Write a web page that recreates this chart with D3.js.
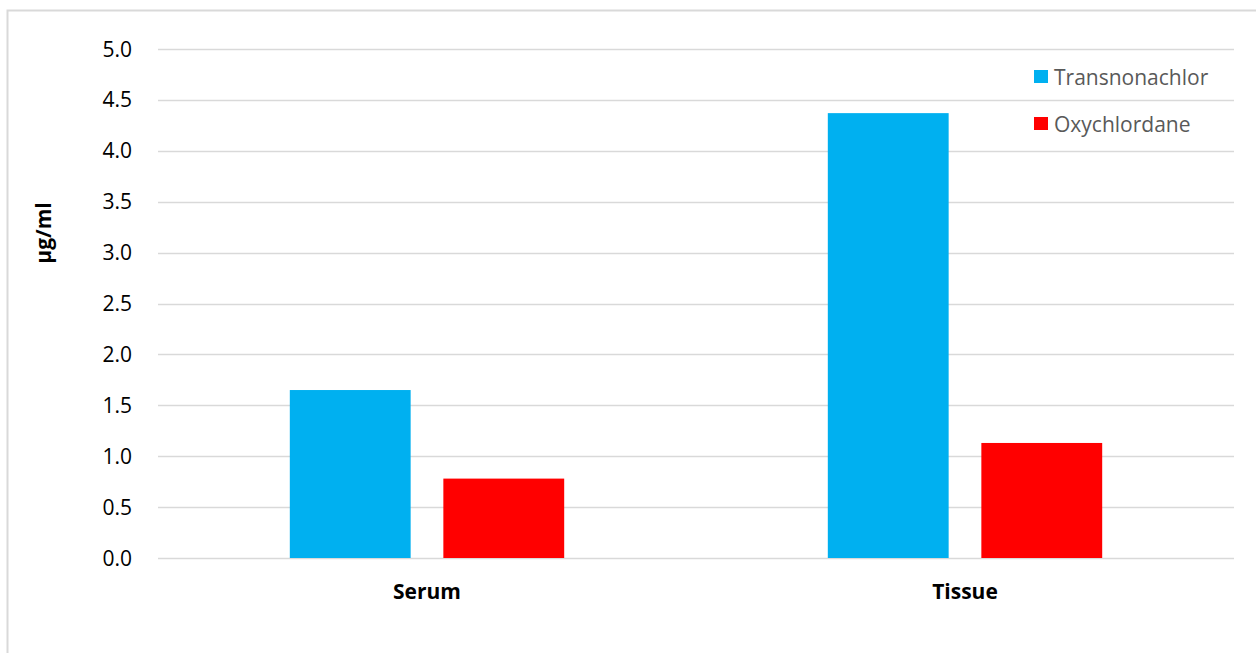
<!DOCTYPE html>
<html>
<head>
<meta charset="utf-8">
<script src="https://cdn.jsdelivr.net/npm/d3@7"></script>
<style>
  body { margin: 0; background: #fff; }
  text { font-family: "Open Sans", "Noto Sans", sans-serif; }
</style>
</head>
<body>
<div id="chart"></div>
<script>
// Data
const categories = ["Serum", "Tissue"];
const seriesNames = ["Transnonachlor", "Oxychlordane"];
const transnonachlor = [1.65, 4.37];
const oxychlordane = [0.78, 1.13];
const yTicks = [0, 0.5, 1, 1.5, 2, 2.5, 3, 3.5, 4, 4.5, 5];
const colors = ["#00B0F0", "#FF0000"];

const width = 1256, height = 653;
const plot = { left: 158, right: 1234, top: 49, bottom: 558 };

const svg = d3.select("#chart")
    .append("svg")
    .attr("width", width)
    .attr("height", height);

// Outer frame (top and left edges visible)
svg.append("path")
    .attr("d", `M7.5,${height} V10.5 H${width}`)
    .attr("fill", "none")
    .attr("stroke", "#d9d9d9")
    .attr("stroke-width", 2);

const y = d3.scaleLinear().domain([0, 5]).range([plot.bottom, plot.top]);
const x0 = d3.scaleBand().domain(categories).range([plot.left, plot.right]);
// inner band: outer gap ~ 24.5% of the category band, gap between bars ~ 21% of step
const outer = x0.bandwidth() * 0.245;
const x1 = d3.scaleBand().domain(seriesNames)
    .range([outer, x0.bandwidth() - outer])
    .paddingInner(0.213)
    .paddingOuter(0);

// Gridlines
svg.append("g")
    .selectAll("line")
    .data(yTicks)
    .enter()
    .append("line")
    .attr("x1", plot.left)
    .attr("x2", plot.right)
    .attr("y1", d => Math.round(y(d)) + 0.5)
    .attr("y2", d => Math.round(y(d)) + 0.5)
    .attr("stroke", "#d9d9d9")
    .attr("stroke-width", 1.5);

// Y tick labels
svg.append("g")
    .selectAll("text")
    .data(yTicks)
    .enter()
    .append("text")
    .attr("x", 132)
    .attr("y", d => y(d))
    .attr("dy", "0.36em")
    .attr("text-anchor", "end")
    .style("font-size", "21px")
    .attr("fill", "#000")
    .text(d => d3.format(".1f")(d));

// Bars
const seriesValues = [transnonachlor, oxychlordane];
const groups = svg.append("g")
    .selectAll("g")
    .data(categories)
    .enter()
    .append("g")
    .attr("transform", d => `translate(${x0(d)},0)`);

groups.selectAll("rect")
    .data((c, i) => seriesNames.map((s, j) => ({ s, j, v: seriesValues[j][i] })))
    .enter()
    .append("rect")
    .attr("x", d => x1(d.s))
    .attr("width", x1.bandwidth())
    .attr("y", d => y(d.v))
    .attr("height", d => y(0) - y(d.v))
    .attr("fill", d => colors[d.j]);

// Category labels
svg.append("g")
    .selectAll("text")
    .data(categories)
    .enter()
    .append("text")
    .attr("x", d => x0(d) + x0.bandwidth() / 2)
    .attr("y", 599)
    .attr("text-anchor", "middle")
    .style("font-size", "21px")
    .style("font-weight", "bold")
    .text(d => d);

// Y axis title
svg.append("text")
    .attr("transform", "translate(51,233) rotate(-90)")
    .attr("text-anchor", "middle")
    .style("font-size", "21px")
    .style("font-weight", "bold")
    .text("µg/ml");

// Legend
const legend = svg.append("g")
    .selectAll("g")
    .data(seriesNames)
    .enter()
    .append("g")
    .attr("transform", (d, i) => `translate(1034,${70 + i * 47})`);

legend.append("rect")
    .attr("width", 14)
    .attr("height", 13)
    .attr("fill", (d, i) => colors[i]);

legend.append("text")
    .attr("x", 20)
    .attr("y", 7)
    .attr("dy", "0.36em")
    .style("font-size", "21px")
    .attr("fill", "#595959")
    .text(d => d);
</script>
</body>
</html>
